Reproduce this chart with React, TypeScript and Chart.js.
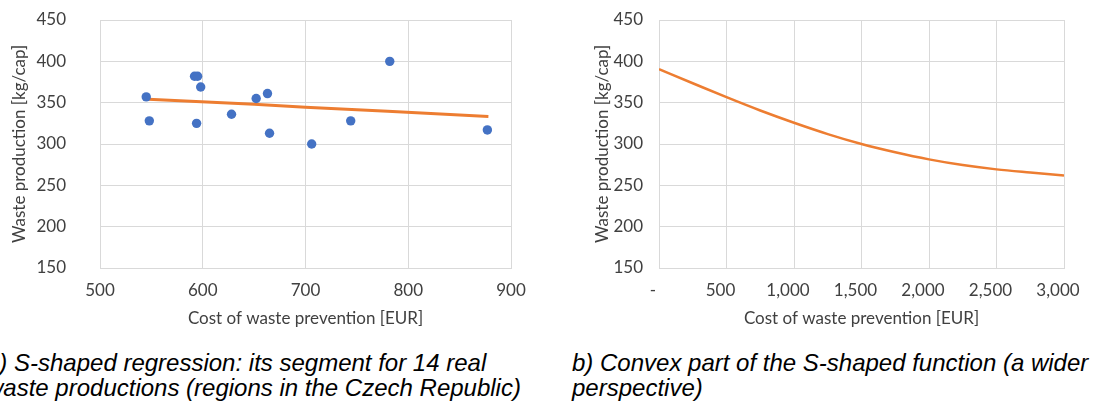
import React, { useEffect, useRef } from 'react';
import { Chart, registerables } from 'chart.js';

Chart.register(...registerables);

// ---- Data: chart a) ----
const costA = [545, 548, 592, 595, 598, 594, 628, 652, 663, 665, 706, 744, 782, 877];
const wasteA = [357, 328, 382, 382, 369, 325, 336, 355, 361, 313, 300, 328, 400, 317];
const trendCostA = [547, 650, 700, 780, 878];
const trendWasteA = [354.2, 348, 344.5, 339.5, 333.3];
const xTicksA = ['500', '600', '700', '800', '900'];

// ---- Data: chart b) ----
const costB = [0, 250, 500, 750, 1000, 1250, 1500, 1750, 2000, 2250, 2500, 2750, 3000];
const wasteB = [390.5, 373.5, 356.6, 340.5, 325.7, 312, 300, 290, 281.4, 274.5, 269.3, 265.5, 262];
const xTicksB = ['-', '500', '1,000', '1,500', '2,000', '2,500', '3,000'];

const yTicks = ['150', '200', '250', '300', '350', '400', '450'];

const xTitle = 'Cost of waste prevention [EUR]';
const yTitle = 'Waste production [kg/cap]';
const captionA = ['a) S-shaped regression: its segment for 14 real', 'waste productions (regions in the Czech Republic)'];
const captionB = ['b) Convex part of the S-shaped function (a wider', 'perspective)'];

const GRID = '#d9d9d9';
const TXT = '#404040';
const FONT = 'Lato';
const FS = 17;

interface Geo {
  w: number;
  h: number;
  plotLeft: number;
  plotRight: number;
  plotTop: number;
  plotBottom: number;
  yTickPad: number;
  yTitleCenter: number;
  xLabelOffset: number;
}

function makeOptions(g: Geo, xMin: number, xMax: number, xStep: number, xLabels: string[]): any {
  const lh = FS * 1.2;
  return {
    responsive: false,
    animation: false,
    devicePixelRatio: 1,
    layout: { padding: { top: g.plotTop, right: g.w - g.plotRight, left: 0, bottom: 0 } },
    plugins: { legend: { display: false }, tooltip: { enabled: false }, title: { display: false } },
    scales: {
      x: {
        type: 'linear',
        min: xMin,
        max: xMax,
        afterFit: (s: any) => {
          s.height = g.h - g.plotBottom;
          s.paddingLeft = 0;
          s.paddingRight = 0;
        },
        afterBuildTicks: (s: any) => {
          const t = [];
          for (let v = xMin; v <= xMax + 1e-9; v += xStep) t.push({ value: v });
          s.ticks = t;
        },
        grid: { color: GRID, lineWidth: 1, drawTicks: false },
        border: { display: true, color: GRID },
        ticks: {
          padding: 291 - g.plotBottom - lh / 2,
          labelOffset: g.xLabelOffset,
          maxRotation: 0,
          autoSkip: false,
          color: TXT,
          font: { family: FONT, size: FS },
          callback: (_v: any, i: number) => xLabels[i],
        },
        title: {
          display: true,
          text: xTitle,
          color: TXT,
          font: { family: FONT, size: FS },
          padding: { top: 0, bottom: 21 - lh / 2 },
        },
      },
      y: {
        type: 'linear',
        min: 150,
        max: 450,
        afterFit: (s: any) => {
          s.width = g.plotLeft;
          s.paddingTop = 0;
          s.paddingBottom = 0;
        },
        afterBuildTicks: (s: any) => {
          const t = [];
          for (let v = 150; v <= 450; v += 50) t.push({ value: v });
          s.ticks = t;
        },
        grid: { color: GRID, lineWidth: 1, drawTicks: false },
        border: { display: true, color: GRID },
        ticks: {
          padding: g.yTickPad,
          color: TXT,
          font: { family: FONT, size: FS },
          callback: (_v: any, i: number) => yTicks[i],
        },
        title: {
          display: true,
          text: yTitle,
          color: TXT,
          font: { family: FONT, size: FS },
          padding: { top: g.yTitleCenter - lh / 2, bottom: 0 },
        },
      },
    },
  };
}

const geoA: Geo = { w: 530, h: 340, plotLeft: 100, plotRight: 511, plotTop: 20, plotBottom: 268, yTickPad: 34, yTitleCenter: 20, xLabelOffset: 0 };
const geoB: Geo = { w: 550, h: 340, plotLeft: 99, plotRight: 504, plotTop: 20, plotBottom: 268, yTickPad: 16, yTitleCenter: 42.7, xLabelOffset: -6 };

function ChartA() {
  const ref = useRef<HTMLCanvasElement | null>(null);
  useEffect(() => {
    if (!ref.current) return;
    const chart = new Chart(ref.current, {
      type: 'scatter',
      data: {
        datasets: [
          {
            label: 'trend',
            data: trendCostA.map((x, i) => ({ x, y: trendWasteA[i] })),
            showLine: true,
            borderColor: '#ED7D31',
            borderWidth: 3,
            pointRadius: 0,
            tension: 0,
            order: 2,
          },
          {
            label: 'regions',
            data: costA.map((x, i) => ({ x, y: wasteA[i] })),
            backgroundColor: '#4472C4',
            borderColor: '#4472C4',
            borderWidth: 0,
            pointRadius: 4.7,
            order: 1,
          },
        ],
      },
      options: makeOptions(geoA, 500, 900, 100, xTicksA),
    });
    return () => chart.destroy();
  }, []);
  return <canvas ref={ref} width={geoA.w} height={geoA.h} style={{ position: 'absolute', left: 0, top: 0, width: geoA.w, height: geoA.h }} />;
}

function ChartB() {
  const ref = useRef<HTMLCanvasElement | null>(null);
  useEffect(() => {
    if (!ref.current) return;
    const chart = new Chart(ref.current, {
      type: 'scatter',
      data: {
        datasets: [
          {
            label: 'S-shaped',
            data: costB.map((x, i) => ({ x, y: wasteB[i] })),
            showLine: true,
            borderColor: '#ED7D31',
            borderWidth: 2.5,
            pointRadius: 0,
            cubicInterpolationMode: 'monotone',
          },
        ],
      },
      options: makeOptions(geoB, 0, 3000, 500, xTicksB),
    });
    return () => chart.destroy();
  }, []);
  return <canvas ref={ref} width={geoB.w} height={geoB.h} style={{ position: 'absolute', left: 560, top: 0, width: geoB.w, height: geoB.h }} />;
}

const capStyle: React.CSSProperties = {
  position: 'absolute',
  fontFamily: '"Liberation Sans", Arial, sans-serif',
  fontStyle: 'italic',
  fontSize: 24,
  lineHeight: '24.5px',
  color: '#000',
  whiteSpace: 'nowrap',
};

export default function App() {
  return (
    <div style={{ position: 'fixed', left: 0, top: 0, width: 1110, height: 401, overflow: 'hidden', background: '#fff' }}>
      <ChartA />
      <ChartB />
      <div style={{ ...capStyle, left: -14, top: 351 }}>
        <div>{captionA[0]}</div>
        <div>{captionA[1]}</div>
      </div>
      <div style={{ ...capStyle, left: 572, top: 351 }}>
        <div>{captionB[0]}</div>
        <div>{captionB[1]}</div>
      </div>
    </div>
  );
}
